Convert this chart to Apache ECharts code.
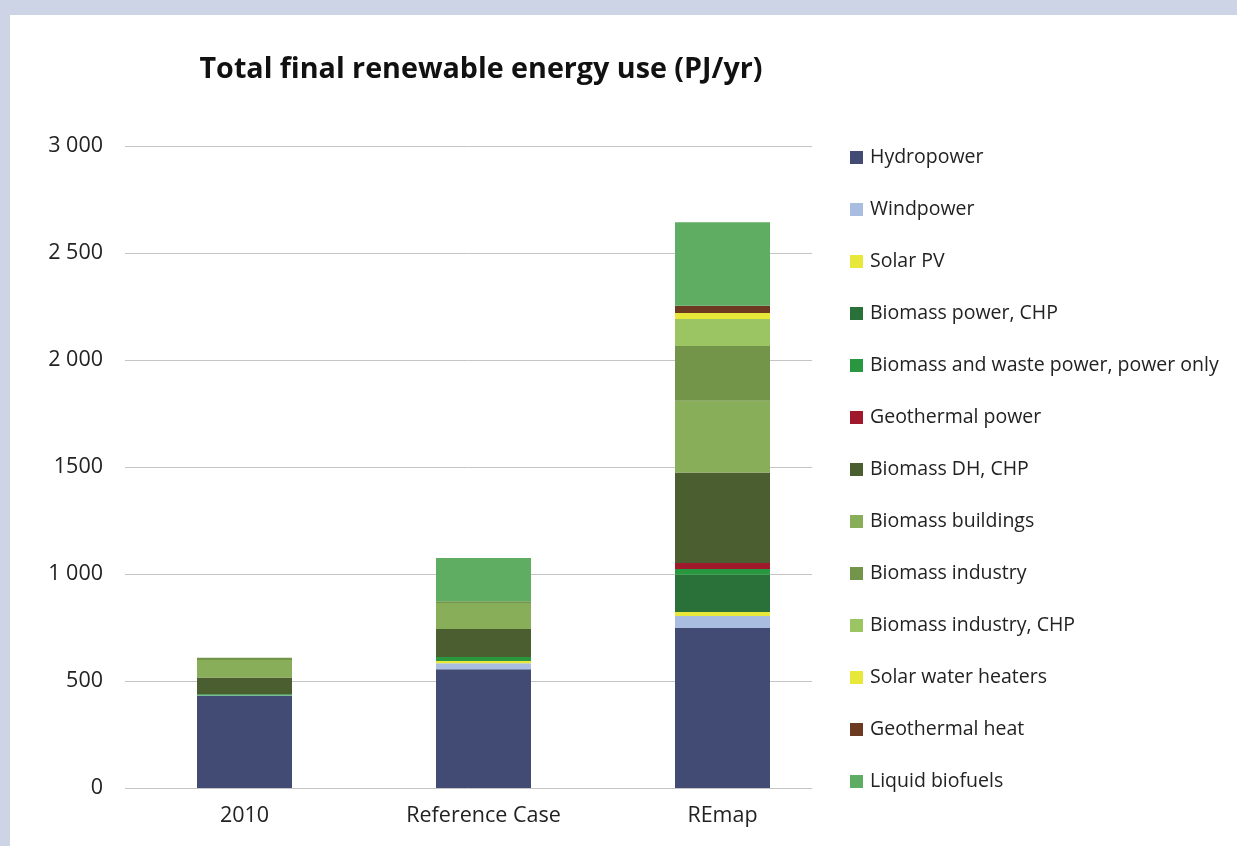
<!DOCTYPE html>
<html><head><meta charset="utf-8">
<script src="https://cdn.jsdelivr.net/npm/echarts@6/dist/echarts.min.js"></script>
<style>html,body{margin:0;padding:0;background:#CDD4E6;}#c{width:1237px;height:846px;}</style>
</head><body><div id="c"></div>
<script>
const categories = ['2010', 'Reference Case', 'REmap'];
const yTickLabels = ['0', '500', '1 000', '1500', '2 000', '2 500', '3 000'];

const hydropower       = [430, 555, 748];
const windpower        = [2, 28, 56];
const solarPV          = [0, 11, 19];
const biomassPowerCHP  = [0, 0, 173];
const biomassWaste     = [6, 18, 27];
const geothermalPower  = [0, 0, 28];
const biomassDHCHP     = [78, 131, 423];
const biomassBuildings = [82, 121, 335];
const biomassIndustry  = [11, 9, 257];
const biomassIndCHP    = [0, 0, 126];
const solarWater       = [0, 0, 28];
const geothermalHeat   = [0, 0, 33];
const liquidBiofuels   = [0, 202, 391];

const seriesNames = ['Hydropower','Windpower','Solar PV','Biomass power, CHP','Biomass and waste power, power only','Geothermal power','Biomass DH, CHP','Biomass buildings','Biomass industry','Biomass industry, CHP','Solar water heaters','Geothermal heat','Liquid biofuels'];
const seriesData = [hydropower, windpower, solarPV, biomassPowerCHP, biomassWaste, geothermalPower, biomassDHCHP, biomassBuildings, biomassIndustry, biomassIndCHP, solarWater, geothermalHeat, liquidBiofuels];
const seriesColors = ['#414B74','#A8BDE0','#E8E83A','#2A7139','#28973F','#A0182C','#4A5E30','#89AE59','#73954A','#9BC462','#E8E83A','#6C3A20','#5FAD62'];

const FONT = 'Open Sans';
const chart = echarts.init(document.getElementById('c'));
chart.setOption({
  backgroundColor: '#CDD4E6',
  animation: false,
  textStyle: { fontFamily: FONT },
  graphic: [{ type: 'rect', z: -10, shape: { x: 10, y: 15, width: 1227, height: 831 }, style: { fill: '#ffffff' } }],
  title: {
    text: 'Total final renewable energy use (PJ/yr)',
    left: 476, top: 50, textAlign: 'center',
    textStyle: { fontFamily: FONT, fontWeight: 'bold', fontSize: 28.7, color: '#111' }
  },
  legend: {
    orient: 'vertical', left: 845, top: 139,
    itemWidth: 13, itemHeight: 13, itemGap: 25,
    icon: 'rect',
    textStyle: { fontFamily: FONT, fontSize: 19.5, color: '#222', padding: [0, 0, 0, 2], lineHeight: 27 },
    data: seriesNames
  },
  grid: [
    { left: 125, top: 146, width: 717, bottom: 58 },
    { left: 125, top: 146, width: 687, bottom: 58 }
  ],
  xAxis: [
    { gridIndex: 0, type: 'category', data: categories,
      axisLine: { show: false }, axisTick: { show: false },
      axisLabel: { fontFamily: FONT, fontSize: 21.5, color: '#222', margin: 17 } },
    { gridIndex: 1, type: 'category', data: categories, show: false }
  ],
  yAxis: [
    { gridIndex: 0, type: 'value', min: 0, max: 3000, interval: 500, show: false, splitLine: { show: false } },
    { gridIndex: 1, type: 'value', min: 0, max: 3000, interval: 500,
      axisLine: { show: false }, axisTick: { show: false },
      axisLabel: { fontFamily: FONT, fontSize: 21.5, color: '#222', margin: 22,
        formatter: (v) => yTickLabels[Math.round(v / 500)] },
      splitLine: { lineStyle: { color: '#C4C4C4', width: 1 } } }
  ],
  series: seriesNames.map((n, i) => ({
    name: n, type: 'bar', stack: 'total', xAxisIndex: 0, yAxisIndex: 0,
    barWidth: 95, data: seriesData[i],
    itemStyle: { color: seriesColors[i] }
  }))
});
</script></body></html>
